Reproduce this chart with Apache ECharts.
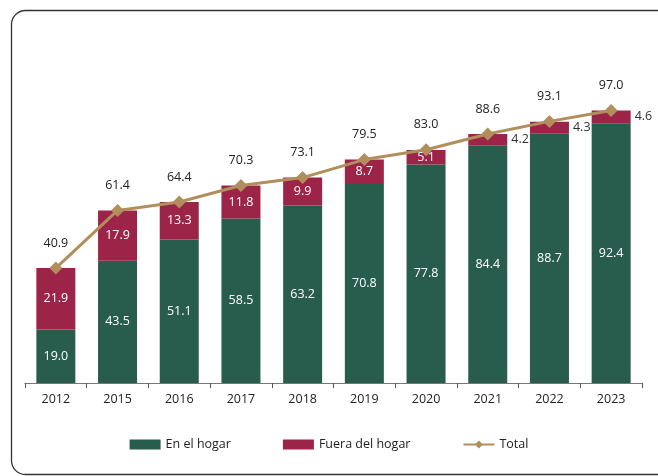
<!DOCTYPE html>
<html>
<head>
<meta charset="utf-8">
<script src="https://cdn.jsdelivr.net/npm/echarts@6/dist/echarts.min.js"></script>
<style>
  html, body { margin: 0; padding: 0; background: #fff; }
  #chart { width: 658px; height: 476px; }
</style>
</head>
<body>
<div id="chart"></div>
<script>
const years = ['2012', '2015', '2016', '2017', '2018', '2019', '2020', '2021', '2022', '2023'];
const enHogar = [19.0, 43.5, 51.1, 58.5, 63.2, 70.8, 77.8, 84.4, 88.7, 92.4];
const fueraHogar = [21.9, 17.9, 13.3, 11.8, 9.9, 8.7, 5.1, 4.2, 4.3, 4.6];
const total = [40.9, 61.4, 64.4, 70.3, 73.1, 79.5, 83.0, 88.6, 93.1, 97.0];

const font = 'Open Sans';
const green = '#285c4d';
const maroon = '#9d2449';
const gold = '#b38e5d';

// small segments get their label beside the bar
const fueraData = fueraHogar.map((v) => v < 5 ? {
    value: v,
    label: {position: 'right', color: '#333', distance: 4},
} : v);

const chart = echarts.init(document.getElementById('chart'));
chart.setOption({
    animation: false,
    textStyle: {fontFamily: font},
    graphic: [
        {
            type: 'rect',
            left: 9,
            top: 8,
            shape: {width: 720, height: 464, r: 14},
            style: {fill: 'none', stroke: '#333', lineWidth: 1.3},
            z: -1,
        },
    ],
    grid: {left: 25, right: 16, top: 102, bottom: 93},
    legend: {
        bottom: 20,
        left: 'center',
        itemWidth: 31,
        itemHeight: 10,
        itemGap: 52,
        textStyle: {fontFamily: font, fontSize: 12.5, color: '#222'},
        data: [
            {name: 'En el hogar', icon: 'rect'},
            {name: 'Fuera del hogar', icon: 'rect'},
            {name: 'Total'},
        ],
    },
    xAxis: {
        type: 'category',
        data: years,
        axisLine: {lineStyle: {color: '#777', width: 1}},
        axisTick: {show: true, length: 5, lineStyle: {color: '#555'}},
        axisLabel: {color: '#222', fontSize: 12.5, margin: 10},
    },
    yAxis: {
        type: 'value',
        min: 0,
        max: 100,
        show: false,
        splitLine: {show: false},
    },
    series: [
        {
            name: 'En el hogar',
            type: 'bar',
            stack: 'a',
            barWidth: 39,
            itemStyle: {color: green},
            label: {
                show: true,
                position: 'inside',
                color: '#fff',
                fontSize: 12.5,
                formatter: (p) => p.value.toFixed(1),
            },
            data: enHogar,
        },
        {
            name: 'Fuera del hogar',
            type: 'bar',
            stack: 'a',
            barWidth: 39,
            itemStyle: {color: maroon},
            label: {
                show: true,
                position: 'inside',
                color: '#fff',
                fontSize: 12.5,
                formatter: (p) => p.value.toFixed(1),
            },
            data: fueraData,
        },
        {
            name: 'Total',
            type: 'line',
            symbol: 'diamond',
            symbolSize: 13,
            lineStyle: {color: gold, width: 3},
            itemStyle: {color: gold},
            label: {
                show: true,
                position: 'top',
                distance: 12,
                color: '#222',
                fontSize: 12.5,
                formatter: (p) => p.value.toFixed(1),
            },
            z: 5,
            data: total,
        },
    ],
});
</script>
</body>
</html>
